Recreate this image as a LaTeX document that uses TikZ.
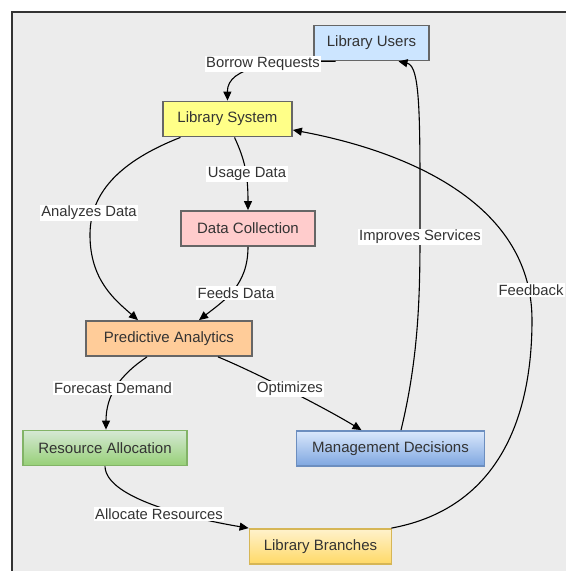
\documentclass[tikz,border=0pt]{standalone}
\usepackage{fontspec}
\setmainfont{Liberation Sans}
\usetikzlibrary{arrows.meta,calc}
\definecolor{bgc}{HTML}{ECECEC}
\definecolor{framec}{HTML}{333333}
\definecolor{txt}{HTML}{333333}
\definecolor{boxline}{HTML}{666666}
\definecolor{usersc}{HTML}{CCE5FF}
\definecolor{systemc}{HTML}{FFFF88}
\definecolor{collectc}{HTML}{FFCCCC}
\definecolor{predictc}{HTML}{FFCC99}
\definecolor{greentop}{HTML}{D5E8D4}
\definecolor{greenbot}{HTML}{97D077}
\definecolor{greenline}{HTML}{82B366}
\definecolor{bluetop}{HTML}{DAE8FC}
\definecolor{bluebot}{HTML}{7EA6E0}
\definecolor{blueline}{HTML}{6C8EBF}
\definecolor{yeltop}{HTML}{FFF2CC}
\definecolor{yelbot}{HTML}{FFD966}
\definecolor{yelline}{HTML}{D6B656}
\tikzset{
  box/.style={rectangle, draw=boxline, line width=1.8pt, text=txt,
    font=\fontsize{15}{17}\selectfont, inner sep=0pt, minimum height=35pt},
  lbl/.style={fill=white, text=txt, inner sep=1.5pt,
    font=\fontsize{14.8}{17}\selectfont},
  conn/.style={draw=black, line width=1.1pt, -{Triangle[length=9pt,width=8pt]}},
  plain/.style={draw=black, line width=1.1pt}
}
\begin{document}
\begin{tikzpicture}[x=1pt,y=-1pt]
\useasboundingbox (0,0) rectangle (566,571);
\fill[bgc] (12,12) rectangle (566,571);
\draw[framec, line width=1.4pt] (12,571) -- (12,12) -- (566,12);

\node[box, fill=usersc, minimum width=115pt] (users) at (371.5,43) {Library Users};
\node[box, fill=systemc, minimum width=129pt] (system) at (227.5,119) {Library System};
\node[box, fill=collectc, minimum width=134pt] (collect) at (248,228.5) {Data Collection};
\node[box, fill=predictc, minimum width=166pt] (predict) at (169,338.5) {Predictive Analytics};
\node[box, draw=greenline, top color=greentop, bottom color=greenbot, minimum width=164pt] (resource) at (105,448) {Resource Allocation};
\node[box, draw=blueline, top color=bluetop, bottom color=bluebot, minimum width=188pt] (mgmt) at (390.5,448.5) {Management Decisions};
\node[box, draw=yelline, top color=yeltop, bottom color=yelbot, minimum width=142pt] (branches) at (320.5,546.5) {Library Branches};

% Borrow Requests
\draw[conn] ($(users.south)+(-36,0)$) .. controls (275,61) and (227,66) .. (system.north);
\node[lbl] (lb1) at (263,64) {Borrow Requests};
% Usage Data
\draw[conn] ($(system.south)+(7,0)$) .. controls (245,160) and (248,175) .. (collect.north);
\node[lbl] (lb2) at (247,174) {Usage Data};
% Analyzes Data
\draw[conn] ($(system.south)+(-47,0)$) .. controls (110,165) and (90,200) .. (90,235)
  .. controls (90,280) and (115,300) .. ($(predict.north)+(-31,0)$);
\node[lbl] (lb3) at (89,213) {Analyzes Data};
% Feeds Data
\draw[conn] (collect.south) .. controls (248,285) and (225,300) .. ($(predict.north)+(30,0)$);
\node[lbl] (lb4) at (236,293) {Feeds Data};
% Forecast Demand
\draw[conn] ($(predict.south)+(-22,0)$) .. controls (120,375) and (106,395) .. ($(resource.north)+(1,0)$);
\node[lbl] (lb5) at (113,388) {Forecast Demand};
% Optimizes
\draw[conn] ($(predict.south)+(49,0)$) .. controls (250,370) and (320,405) .. ($(mgmt.north)+(-29,0)$);
\node[lbl] (lb6) at (290,389) {Optimizes};
% Improves Services
\draw[conn] ($(mgmt.north)+(10.5,0)$) .. controls (418,360) and (420,300) .. (420,237)
  .. controls (420,120) and (421,66) .. ($(users.south)+(27,0)$);
\node[lbl] (lb7) at (420,237) {Improves Services};
% Feedback
\draw[conn] ($(branches.north east)+(-1,0)$) .. controls (490,510) and (532,430) .. (532,320)
  .. controls (532,200) and (400,150) .. ($(system.east)+(0,11)$);
\node[lbl] (lb8) at (531,290) {Feedback};
% Allocate Resources
\draw[conn] (resource.south) .. controls (106,500) and (200,520) .. (branches.north west);
\node[lbl] (lb9) at (159,514) {Allocate Resources};
\end{tikzpicture}
\end{document}
